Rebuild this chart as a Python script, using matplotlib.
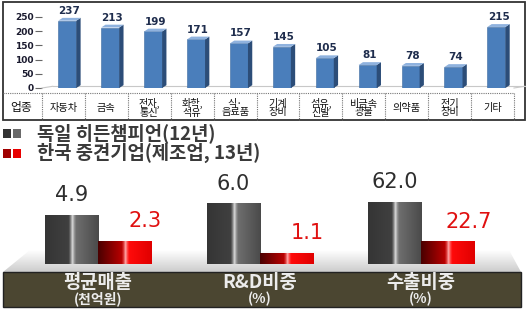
import matplotlib
matplotlib.use("Agg")
import matplotlib.pyplot as plt
import matplotlib.transforms as mtransforms
from matplotlib.patches import Rectangle, Polygon
from matplotlib.colors import to_rgb
import numpy as np

# ---------------- data ----------------
industries = ["자동차", "금속", "전자,\n통신", "화학,\n석유", "식·\n음료품", "기계\n장비",
              "섬유,\n신발", "비금속\n광물", "의약품", "전기\n장비", "기타"]
counts = [237, 213, 199, 171, 157, 145, 105, 81, 78, 74, 215]
count_ticks = [0, 50, 100, 150, 200, 250]
row_header = "업종"

legend_labels = ["독일 히든챔피언(12년)", "한국 중견기업(제조업, 13년)"]
metrics = ["평균매출", "R&D비중", "수출비중"]
metric_units = ["(천억원)", "(%)", "(%)"]
germany = [4.9, 6.0, 62.0]
korea = [2.3, 1.1, 22.7]
metric_ylim = [8.4, 8.3, 84.0]

KR = ["Noto Sans CJK KR", "DejaVu Sans"]

W, H = 529, 309
fig = plt.figure(figsize=(W / 100, H / 100), dpi=100)
fig.patch.set_facecolor("white")

bg = fig.add_axes([0, 0, 1, 1], zorder=0)
bg.set_xlim(0, W)
bg.set_ylim(H, 0)
bg.axis("off")


def px_axes(x0, y0, x1, y1, z=2):
    a = fig.add_axes([x0 / W, 1 - y1 / H, (x1 - x0) / W, (y1 - y0) / H], zorder=z)
    a.patch.set_alpha(0)
    return a


# ---------------- top chart ----------------
ax1 = px_axes(42, 17, 514, 88)
ax1.set_xlim(-0.5, len(counts) - 0.5)
ax1.set_ylim(0, 250)
for s in ax1.spines.values():
    s.set_visible(False)
ax1.set_xticks([])
ax1.set_yticks(count_ticks)
ax1.set_yticklabels([str(t) for t in count_ticks], fontsize=6.5, fontweight="bold",
                    color="#1a1a2e", family="DejaVu Sans")
ax1.tick_params(axis="y", length=5, width=0.8, color="#666666", pad=1)

dx, dy = 0.1, 10.0
off, bw = 0.09, 0.42
xs = np.arange(len(counts))
n = len(counts)

# 3D floor
ax1.plot([-0.5, -0.5 + 0.25], [0, dy * 0.6], color="#c8c8c8", lw=0.8, clip_on=False)
ax1.plot([-0.5 + 0.25, n - 0.5 + 0.25], [dy * 0.6, dy * 0.6], color="#c8c8c8", lw=0.8, clip_on=False)
ax1.plot([n - 0.5, n - 0.5 + 0.25], [0, dy * 0.6], color="#c8c8c8", lw=0.8, clip_on=False)

bars = ax1.bar(xs + off, counts, width=bw, color="#4a7ebb", edgecolor="#3d6aa0", lw=0.4, zorder=3)
for b, v in zip(bars, counts):
    x0 = b.get_x()
    x1 = x0 + b.get_width()
    side = Polygon([[x1, 0], [x1 + dx, dy], [x1 + dx, v + dy], [x1, v]], closed=True,
                   facecolor="#2c4d78", edgecolor="none", zorder=3)
    top = Polygon([[x0, v], [x0 + dx, v + dy], [x1 + dx, v + dy], [x1, v]], closed=True,
                  facecolor="#8fb2de", edgecolor="none", zorder=3)
    ax1.add_patch(side)
    ax1.add_patch(top)
    ax1.annotate(str(v), (x0 + b.get_width() / 2 + dx / 2, v + dy), xytext=(0, 1.5),
                 textcoords="offset points", ha="center", va="bottom", fontsize=7.5,
                 fontweight="bold", color="#1f2d4d", family="DejaVu Sans",
                 annotation_clip=False)

# table
bl = mtransforms.blended_transform_factory(ax1.transData, bg.transData)
table_top, table_bot = 93, 120
bg.plot([3, 514], [table_top, table_top], color="#777777", lw=0.8, ls=(0, (1, 1)))
for k in range(n + 1):
    ax1.plot([k - 0.5, k - 0.5], [table_top, table_bot], transform=bl, color="#777777",
             lw=0.8, ls=(0, (1, 1)), clip_on=False)
for k, lab in enumerate(industries):
    ax1.text(k, 108, lab, transform=bl, ha="center", va="center", fontsize=7.3,
             family=KR, color="#111111", linespacing=0.78, clip_on=False)
bg.text(21, 108, row_header, ha="center", va="center", fontsize=8.5, family=KR, color="#111111")
bg.add_patch(Rectangle((3, 2), 522, 118, fill=False, edgecolor="#333333", lw=1.3))

# ---------------- legend ----------------
leg_sq = [("#333333", "#6a6a6a"), ("#a00000", "#e80000")]
leg_y = [133, 153]
for (c1, c2), y, lab in zip(leg_sq, leg_y, legend_labels):
    bg.add_patch(Rectangle((3, y - 4.5), 8, 9, facecolor=c1, edgecolor="none"))
    bg.add_patch(Rectangle((13, y - 4.5), 8, 9, facecolor=c2, edgecolor="none"))
    bg.text(37, y, lab, ha="left", va="center", fontsize=13.5, fontweight="bold",
            family=KR, color="#3a3a3a")

# ---------------- bottom floor & band ----------------
floor = Polygon([[3, 272], [30, 250], [509, 250], [521, 272]], closed=True,
                facecolor="none", edgecolor="none")
bg.add_patch(floor)
grad = np.linspace(1.0, 0.80, 50)[:, None] * np.ones((50, 2))
im = bg.imshow(np.dstack([grad, grad, grad]), extent=[3, 521, 272, 250], aspect="auto",
               zorder=0.5, interpolation="bilinear")
im.set_clip_path(floor)
bg.add_patch(Rectangle((3, 272), 518, 35, facecolor="#4b4631", edgecolor="#222222", lw=1.0))
bg.set_xlim(0, W)
bg.set_ylim(H, 0)


def ramp(stops, N=120):
    t = np.linspace(0, 1, N)
    pos = [s[0] for s in stops]
    cols = np.array([to_rgb(s[1]) for s in stops])
    return np.stack([np.interp(t, pos, cols[:, i]) for i in range(3)], axis=-1)


black_grad = ramp([(0, "#353535"), (0.44, "#404040"), (0.48, "#8a8a8a"), (0.51, "#e0e0e0"),
                   (0.54, "#9a9a9a"), (0.58, "#6e6e6e"), (1.0, "#4a4a4a")])
red_grad = ramp([(0, "#4a0000"), (0.44, "#b80000"), (0.48, "#e04040"), (0.51, "#ffb0b0"),
                 (0.54, "#ff5050"), (0.58, "#ff0a0a"), (1.0, "#e00000")])

centers = [98, 260, 421]
for i, c in enumerate(centers):
    ax = px_axes(c - 80, 180, c + 80, 264, z=3)
    ax.set_xlim(-1.5, 1.5)
    ax.set_ylim(0, metric_ylim[i])
    ax.axis("off")
    bb = ax.bar([-0.5, 0.5], [germany[i], korea[i]], width=1.0, color="none", edgecolor="none")
    for b, g in zip(bb, [black_grad, red_grad]):
        x0, w, h = b.get_x(), b.get_width(), b.get_height()
        img = ax.imshow(g[None, :, :], extent=[x0, x0 + w, 0, h], aspect="auto",
                        interpolation="bilinear", zorder=2)
        img.set_clip_path(b)
    ax.set_xlim(-1.5, 1.5)
    ax.set_ylim(0, metric_ylim[i])
    ax.annotate(f"{germany[i]:.1f}", (-0.5, germany[i]), xytext=(0, 7), textcoords="offset points",
                ha="center", va="bottom", fontsize=15, color="#2e2e2e", family="DejaVu Sans",
                annotation_clip=False)
    ax.annotate(f"{korea[i]:.1f}", (0.5, korea[i]), xytext=(15, 7), textcoords="offset points",
                ha="center", va="bottom", fontsize=15, color="#e01010", family="DejaVu Sans",
                annotation_clip=False)
    bg.text(c, 283, metrics[i], ha="center", va="center", fontsize=13.5, fontweight="bold",
            family=KR, color="#ececec", zorder=5)
    bg.text(c, 299, metric_units[i], ha="center", va="center", fontsize=10, fontweight="bold",
            family=KR, color="#ececec", zorder=5)

fig.savefig("out.png", dpi=100, facecolor="white")
